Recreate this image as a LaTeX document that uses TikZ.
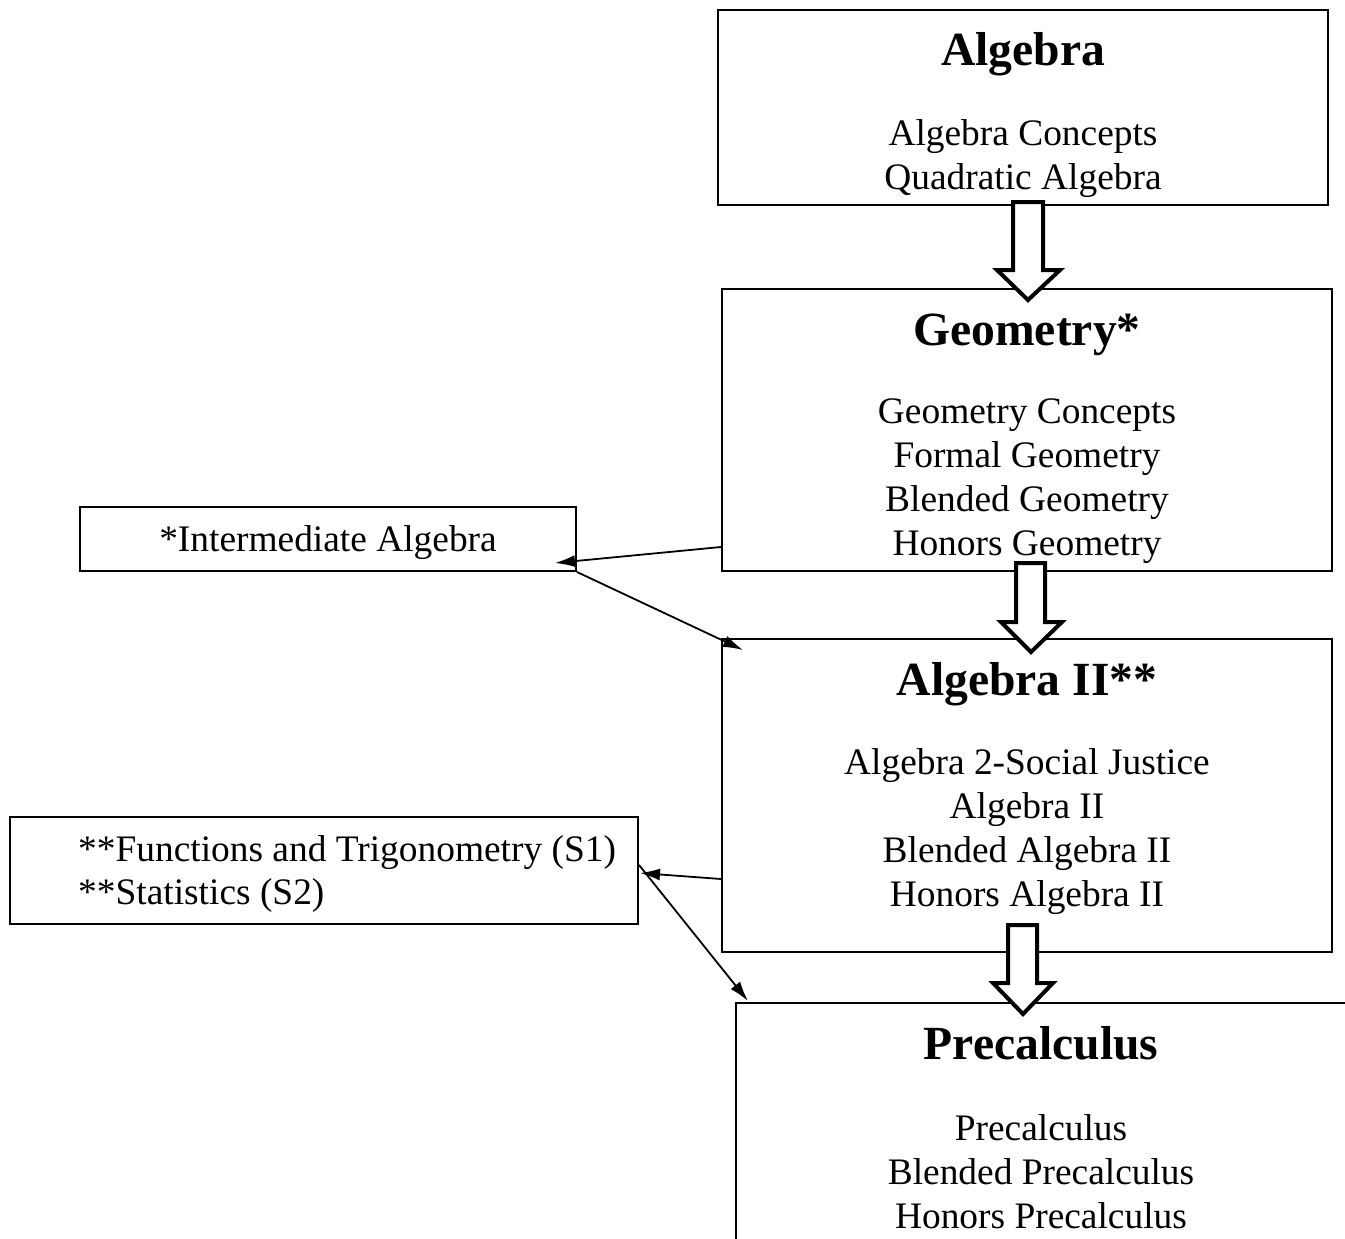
\documentclass[tikz,border=0pt]{standalone}
\usepackage{fontspec}
\setmainfont{Liberation Serif}
\usetikzlibrary{arrows.meta}
\begin{document}
\begin{tikzpicture}[x=1pt,y=-1pt,
  box/.style={draw, line width=2pt, inner sep=0pt},
  ln/.style={font=\fontsize{37.4}{44}\selectfont, anchor=base, inner sep=0pt},
  lnw/.style={font=\fontsize{37.4}{44}\selectfont, anchor=base west, inner sep=0pt},
  ttl/.style={font=\fontsize{47.6}{56}\selectfont\bfseries, anchor=base, inner sep=0pt},
  conn/.style={line width=1.8pt, -{Latex[length=20pt,width=12pt]}},
  blk/.style={draw, fill=white, line width=4pt, line join=miter}]
\clip (0,0) rectangle (1345,1239);
\fill[white] (0,0) rectangle (1345,1239);

% boxes
\node[box, minimum width=610pt, minimum height=195pt] (alg) at (1023,107.5) {};
\node[box, minimum width=610pt, minimum height=282pt] (geo) at (1027,430) {};
\node[box, minimum width=610pt, minimum height=313pt] (alg2) at (1027,795.5) {};
\node[box, minimum width=614pt, minimum height=277pt] (pre) at (1043,1141.5) {};
\node[box, minimum width=496pt, minimum height=64pt] (inter) at (328,539) {};
\node[box, minimum width=628pt, minimum height=107pt] (fun) at (324,870.5) {};

% texts
\node[ttl] (algT) at (1023,66) {Algebra};
\node[ln] (alg1) at (1023,145) {Algebra Concepts};
\node[ln] (alg2l) at (1023,189) {Quadratic Algebra};

\node[ttl] (geoT) at (1027,345) {Geometry*};
\node[ln] (geo1) at (1027,423) {Geometry Concepts};
\node[ln] (geo2) at (1027,467) {Formal Geometry};
\node[ln] (geo3) at (1027,511) {Blended Geometry};
\node[ln] (geo4) at (1027,555) {Honors Geometry};

\node[ttl] (a2T) at (1027,695) {Algebra II**};
\node[ln] (a21) at (1027,774) {Algebra 2-Social Justice};
\node[ln] (a22) at (1027,818) {Algebra II};
\node[ln] (a23) at (1027,862) {Blended Algebra II};
\node[ln] (a24) at (1027,906) {Honors Algebra II};

\node[ttl] (preT) at (1041,1059) {Precalculus};
\node[ln] (pre1) at (1041,1140) {Precalculus};
\node[ln] (pre2) at (1041,1184) {Blended Precalculus};
\node[ln] (pre3) at (1041,1228) {Honors Precalculus};

\node[ln] (interT) at (328,551) {*Intermediate Algebra};
\node[lnw] (fun1) at (78,861) {**Functions and Trigonometry (S1)};
\node[lnw] (fun2) at (78,904) {**Statistics (S2)};

% thin connectors
\coordinate (t1) at (555,563);
\coordinate (t2) at (743,650);
\coordinate (t3) at (640,873);
\coordinate (t4) at (748,1001);
\draw[conn] (geo.west |- 0,547) -- (t1);
\draw[conn] (inter.south east) -- (t2);
\draw[conn] (alg2.west |- 0,879) -- (t3);
\draw[conn] (fun.east |- 0,865) -- (t4);

% block arrows
\draw[blk] (1013,202) -- (1043,202) -- (1043,270) -- (1060,270) -- (1028,300) -- (997,270) -- (1013,270) -- cycle;
\draw[blk] (1016,563) -- (1045,563) -- (1045,622) -- (1062,622) -- (1031,652) -- (1001,622) -- (1016,622) -- cycle;
\draw[blk] (1008,925) -- (1037,925) -- (1037,983) -- (1053,983) -- (1023,1014) -- (993,983) -- (1008,983) -- cycle;
\end{tikzpicture}
\end{document}
